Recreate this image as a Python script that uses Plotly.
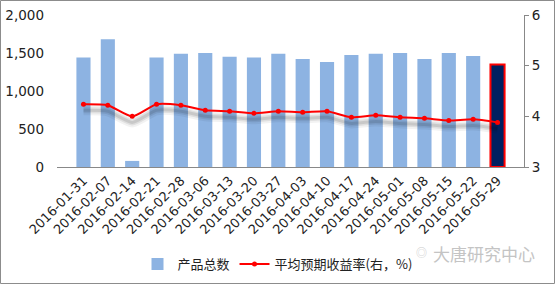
import plotly.graph_objects as go

dates = ["2016-01-31","2016-02-07","2016-02-14","2016-02-21","2016-02-28","2016-03-06",
         "2016-03-13","2016-03-20","2016-03-27","2016-04-03","2016-04-10","2016-04-17",
         "2016-04-24","2016-05-01","2016-05-08","2016-05-15","2016-05-22","2016-05-29"]
counts = [1440, 1680, 80, 1440, 1490, 1500, 1450, 1440, 1490, 1420, 1380, 1475,
          1490, 1500, 1420, 1500, 1460, 1350]
yields = [4.24, 4.22, 4.00, 4.24, 4.22, 4.12, 4.10, 4.06, 4.10, 4.08, 4.10, 3.98,
          4.02, 3.98, 3.96, 3.92, 3.94, 3.88]

bar_colors = ["#8DB3E2"] * (len(dates) - 1) + ["#002060"]
bar_line_colors = ["rgba(0,0,0,0)"] * (len(dates) - 1) + ["#FF0000"]
bar_line_widths = [0] * (len(dates) - 1) + [2]

FONT = "Noto Sans CJK SC"
NUMFONT = "DejaVu Sans"

fig = go.Figure()
fig.add_trace(go.Bar(
    x=dates, y=counts, name="产品总数",
    marker=dict(color=bar_colors, line=dict(color=bar_line_colors, width=bar_line_widths)),
    yaxis="y",
))
# soft drop shadow of the yield line (same data on a slightly shifted hidden axis)
for w, a in [(10, 0.05), (6, 0.08), (3, 0.10)]:
    fig.add_trace(go.Scatter(
        x=dates, y=yields, yaxis="y3", mode="lines", showlegend=False, hoverinfo="skip",
        line=dict(color=f"rgba(0,0,0,{a})", width=w, shape="spline", smoothing=0.6),
    ))
fig.add_trace(go.Scatter(
    x=dates, y=yields, name="平均预期收益率(右，%)", yaxis="y2",
    mode="lines+markers",
    line=dict(color="#FF0000", width=2, shape="spline", smoothing=0.6),
    marker=dict(color="#FF0000", size=5),
))

L, R, T, B = 57, 31, 15, 117
W, H = 555, 284
pw, ph = W - L - R, H - T - B


def px(x):
    return (x - L) / pw


def py(y):
    return (H - B - y) / ph


fig.update_layout(
    width=W, height=H,
    margin=dict(l=L, r=R, t=T, b=B, autoexpand=False),
    paper_bgcolor="white", plot_bgcolor="white",
    font=dict(family=FONT, size=13, color="#222222"),
    bargap=0.42,
    showlegend=True,
    legend=dict(orientation="h", xref="container", yref="container",
                x=0.5, xanchor="center", y=1 - 264 / H, yanchor="middle",
                font=dict(size=13, color="#222222"),
                bgcolor="rgba(0,0,0,0)"),
    xaxis=dict(type="category", tickangle=-45, showgrid=False, showline=True,
               linecolor="#888888", linewidth=1, ticks="", automargin=False,
               tickfont=dict(size=13, family=NUMFONT)),
    yaxis=dict(range=[0, 2000], tickvals=[0, 500, 1000, 1500, 2000], tickformat=",",
               showgrid=False, showline=False, zeroline=False, ticks="", automargin=False,
               ticklabelstandoff=12, tickfont=dict(size=13.5, family=NUMFONT)),
    yaxis2=dict(range=[3, 6], tickvals=[3, 4, 5, 6], overlaying="y", side="right",
                showgrid=False, showline=True, linecolor="#888888", linewidth=1,
                ticks="outside", ticklen=4, tickcolor="#888888", zeroline=False,
                automargin=False, tickfont=dict(size=13.5, family=NUMFONT)),
    yaxis3=dict(range=[3.12, 6.12], overlaying="y", visible=False, automargin=False),
    shapes=[dict(type="rect", xref="paper", yref="paper",
                 x0=px(0.5), x1=px(W - 0.5), y0=py(H - 0.5), y1=py(0.5),
                 line=dict(color="#8C8C8C", width=1), fillcolor="rgba(0,0,0,0)", layer="below")],
    annotations=[dict(text="大唐研究中心", xref="paper", yref="paper",
                      x=px(537), xanchor="right", y=py(254), yanchor="middle",
                      showarrow=False, font=dict(size=17, color="#C4C4C4", family=FONT)),
                 dict(text="◎", xref="paper", yref="paper",
                      x=px(421), xanchor="center", y=py(252), yanchor="middle",
                      showarrow=False, font=dict(size=11, color="#CCCCCC", family=FONT))],
)

fig.write_html("out.html")
